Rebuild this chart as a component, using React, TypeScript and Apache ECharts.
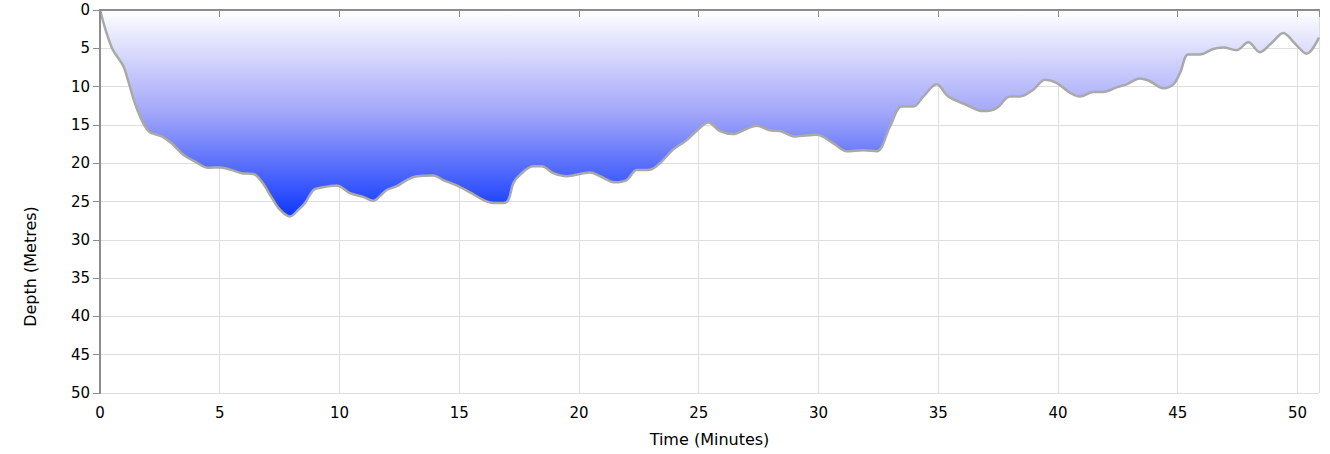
import React, { useEffect, useRef } from "react";
import * as echarts from "echarts";

const times = [
  0, 0.49, 0.97, 1.18, 1.53, 2.02, 2.58, 2.99, 3.48, 3.97,
  4.52, 5.01, 5.92, 6.4, 6.75, 7.17, 7.52, 7.93, 8.28, 8.56,
  8.91, 9.19, 9.88, 10.44, 10.99, 11.41, 11.69, 11.97, 12.39, 12.81,
  13.22, 13.92, 14.33, 14.89, 15.45, 16.0, 16.42, 16.84, 17.05, 17.26,
  17.54, 18.09, 18.44, 18.93, 19.49, 20.46, 20.88, 21.5, 21.99, 22.41,
  22.96, 23.38, 23.94, 24.43, 24.91, 25.4, 25.89, 26.44, 27.0, 27.42,
  27.97, 28.39, 29.02, 29.92, 30.62, 31.18, 31.87, 32.43, 32.99, 33.47,
  33.96, 34.38, 34.93, 35.42, 36.19, 36.88, 37.44, 38.0, 38.41, 38.97,
  39.46, 39.94, 40.5, 40.92, 41.47, 41.89, 42.45, 42.87, 43.42, 43.84,
  44.4, 44.82, 45.1, 45.44, 45.93, 46.48, 46.9, 47.46, 47.95, 48.43,
  48.92, 49.41, 49.9, 50.38, 50.9,
];

const depths = [
  0, 4.9, 7.3, 9.3, 12.8, 15.8, 16.5, 17.4, 18.9, 19.8,
  20.6, 20.55, 21.3, 21.4, 22.4, 24.5, 26.1, 26.95, 26.1, 25.2,
  23.5, 23.2, 22.9, 23.9, 24.4, 24.9, 24.3, 23.5, 23.0, 22.2,
  21.7, 21.6, 22.2, 22.9, 23.8, 24.8, 25.2, 25.2, 24.8, 22.6,
  21.5, 20.4, 20.4, 21.3, 21.7, 21.2, 21.7, 22.5, 22.2, 20.9,
  20.85, 20.0, 18.2, 17.15, 15.8, 14.7, 15.8, 16.2, 15.5, 15.1,
  15.7, 15.8, 16.5, 16.3, 17.4, 18.45, 18.3, 18.45, 15.2, 12.6,
  12.6, 11.3, 9.7, 11.3, 12.4, 13.2, 12.8, 11.3, 11.3, 10.4,
  9.1, 9.5, 10.8, 11.3, 10.7, 10.7, 10.1, 9.7, 8.95, 9.3,
  10.2, 9.7, 8.2, 5.8, 5.8, 5.1, 4.9, 5.25, 4.2, 5.5,
  4.3, 3.0, 4.4, 5.7, 3.6,
];

const X_MIN = 0;
const X_MAX = 50.9;
const X_STEP = 5;
const Y_MIN = 0;
const Y_MAX = 50;
const Y_STEP = 5;
const X_NAME = "Time (Minutes)";
const Y_NAME = "Depth (Metres)";

const FONT = "DejaVu Sans";
const AXIS_COLOR = "#8c8c8c";
const GRID_COLOR = "#dedede";

export default function App() {
  const ref = useRef<HTMLDivElement>(null);

  useEffect(() => {
    if (!ref.current) return;
    const chart = echarts.init(ref.current, undefined, { renderer: "svg" });
    const data = times.map((t, i) => [t, depths[i]]);
    const hidden = { show: false };
    const tickFmt = (v: number) => (Math.abs(v % 5) < 1e-9 ? String(v) : "");

    chart.setOption({
      animation: false,
      backgroundColor: "#ffffff",
      grid: { left: 100, right: 11, top: 10, bottom: 61, containLabel: false },
      xAxis: [
        {
          type: "value",
          min: X_MIN,
          max: X_MAX,
          interval: X_STEP,
          position: "bottom",
          z: 10,
          axisLine: { show: true, lineStyle: { color: AXIS_COLOR, width: 2 } },
          axisTick: { show: true, length: 7, lineStyle: { color: AXIS_COLOR, width: 1 } },
          axisLabel: { color: "#000", fontSize: 15, fontFamily: FONT, margin: 12, formatter: tickFmt },
          splitLine: hidden,
          name: X_NAME,
          nameLocation: "middle",
          nameGap: 38,
          nameTextStyle: { color: "#000", fontSize: 16, fontFamily: FONT },
        },
        {
          type: "value",
          min: X_MIN,
          max: X_MAX,
          interval: X_STEP,
          position: "top",
          z: 10,
          axisLine: { show: true, lineStyle: { color: AXIS_COLOR, width: 2 } },
          axisTick: hidden,
          axisLabel: hidden,
          splitLine: hidden,
        },
        {
          type: "value",
          min: X_MIN,
          max: X_MAX,
          interval: X_STEP,
          position: "bottom",
          z: 0,
          axisLine: hidden,
          axisTick: hidden,
          axisLabel: hidden,
          splitLine: { show: true, lineStyle: { color: GRID_COLOR, width: 1 } },
        },
      ],
      yAxis: [
        {
          type: "value",
          inverse: true,
          min: Y_MIN,
          max: Y_MAX,
          interval: Y_STEP,
          position: "left",
          z: 10,
          axisLine: { show: true, lineStyle: { color: AXIS_COLOR, width: 2 } },
          axisTick: { show: true, length: 7, lineStyle: { color: AXIS_COLOR, width: 1 } },
          axisLabel: { color: "#000", fontSize: 15, fontFamily: FONT, margin: 10 },
          splitLine: hidden,
          name: Y_NAME,
          nameLocation: "middle",
          nameRotate: 90,
          nameGap: 62,
          nameTextStyle: { color: "#000", fontSize: 16, fontFamily: FONT, padding: [0, 130, 0, 0] },
        },
        {
          type: "value",
          inverse: true,
          min: Y_MIN,
          max: Y_MAX,
          interval: Y_STEP,
          position: "right",
          z: 10,
          axisLine: { show: true, lineStyle: { color: AXIS_COLOR, width: 2 } },
          axisTick: hidden,
          axisLabel: hidden,
          splitLine: hidden,
        },
        {
          type: "value",
          inverse: true,
          min: Y_MIN,
          max: Y_MAX,
          interval: Y_STEP,
          position: "left",
          z: 0,
          axisLine: hidden,
          axisTick: hidden,
          axisLabel: hidden,
          splitLine: { show: true, lineStyle: { color: GRID_COLOR, width: 1 } },
        },
      ],
      series: [
        {
          type: "line",
          xAxisIndex: 0,
          yAxisIndex: 0,
          data,
          smooth: 0.35,
          symbol: "none",
          lineStyle: { color: "#a9a9a9", width: 2.5 },
          areaStyle: {
            origin: "start",
            opacity: 1,
            color: new echarts.graphic.LinearGradient(0, 0, 0, 1, [
              { offset: 0, color: "#ffffff" },
              { offset: 0.5, color: "#a2a6f9" },
              { offset: 1, color: "#0f38ff" },
            ]),
          },
        },
      ],
    });

    return () => chart.dispose();
  }, []);

  return (
    <div
      ref={ref}
      style={{ position: "absolute", left: 0, top: 0, width: 1330, height: 454 }}
    />
  );
}
